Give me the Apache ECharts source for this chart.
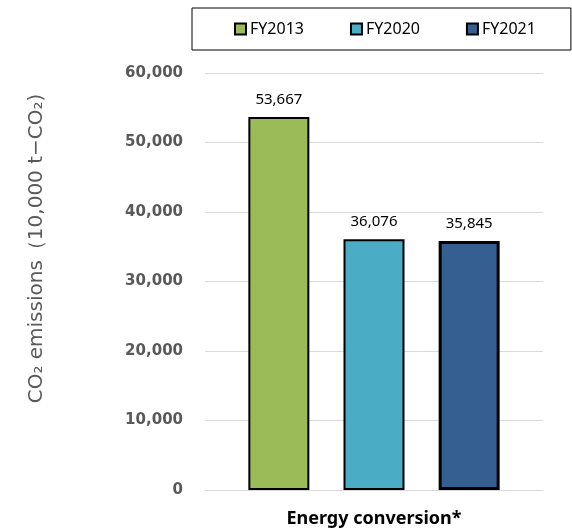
<!DOCTYPE html>
<html>
<head>
<meta charset="utf-8">
<script src="https://cdn.jsdelivr.net/npm/echarts@6/dist/echarts.min.js"></script>
<style>
  html, body { margin: 0; padding: 0; background: #fff; }
  #chart { width: 572px; height: 532px; }
</style>
</head>
<body>
<div id="chart"></div>
<script>
// Category and fiscal-year series
const categories = ['Energy conversion*'];
const seriesNames = ['FY2013', 'FY2020', 'FY2021'];
const valuesFY2013 = [53667];
const valuesFY2020 = [36076];
const valuesFY2021 = [35845];
const seriesColors = ['#9BBB59', '#4BACC6', '#365F91'];

const yMin = 0, yMax = 60000, yStep = 10000;

const fmt = v => Number(v).toLocaleString('en-US');

const seriesValues = [valuesFY2013, valuesFY2020, valuesFY2021];

const chart = echarts.init(document.getElementById('chart'));
chart.setOption({
  animation: false,
  grid: { left: 205, right: 29, top: 73, bottom: 42 },
  legend: {
    left: 192, top: 8,
    padding: [13, 35, 13, 42],
    borderColor: '#000', borderWidth: 1,
    itemWidth: 11, itemHeight: 11, itemGap: 46,
    textStyle: { fontFamily: 'Noto Sans', fontSize: 16, color: '#000', padding: [0, 0, 0, -1] },
    data: seriesNames.map((n, i) => ({
      name: n,
      icon: 'rect',
      itemStyle: { color: seriesColors[i], borderColor: '#000', borderWidth: 2 }
    }))
  },
  xAxis: {
    type: 'category',
    data: categories,
    axisTick: { show: false },
    axisLine: { lineStyle: { color: '#d9d9d9', width: 1 } },
    axisLabel: { fontFamily: 'Noto Sans', fontWeight: 'bold', fontSize: 18, color: '#000', margin: 20 }
  },
  yAxis: {
    type: 'value',
    min: yMin, max: yMax, interval: yStep,
    name: 'CO₂ emissions（10,000 t−CO₂)',
    nameLocation: 'middle',
    nameRotate: 90,
    nameGap: 158,
    nameTextStyle: { fontFamily: 'DejaVu Sans', fontSize: 20, color: '#595959', padding: [0, 0, 0, 66] },
    axisLine: { show: false },
    axisTick: { show: false },
    splitLine: { lineStyle: { color: '#d9d9d9', width: 1 } },
    axisLabel: { fontFamily: 'DejaVu Sans', fontWeight: 'bold', fontSize: 15, color: '#595959', margin: 22, formatter: fmt }
  },
  series: seriesNames.map((n, i) => ({
    name: n,
    type: 'bar',
    data: seriesValues[i],
    barWidth: 61,
    barGap: '56%',
    itemStyle: { color: seriesColors[i], borderColor: '#000', borderWidth: i === 2 ? 3 : 2 },
    label: {
      show: true, position: 'top', distance: 10,
      fontFamily: 'Noto Sans', fontSize: 15, color: '#000',
      formatter: p => fmt(p.value)
    }
  }))
});
</script>
</body>
</html>
